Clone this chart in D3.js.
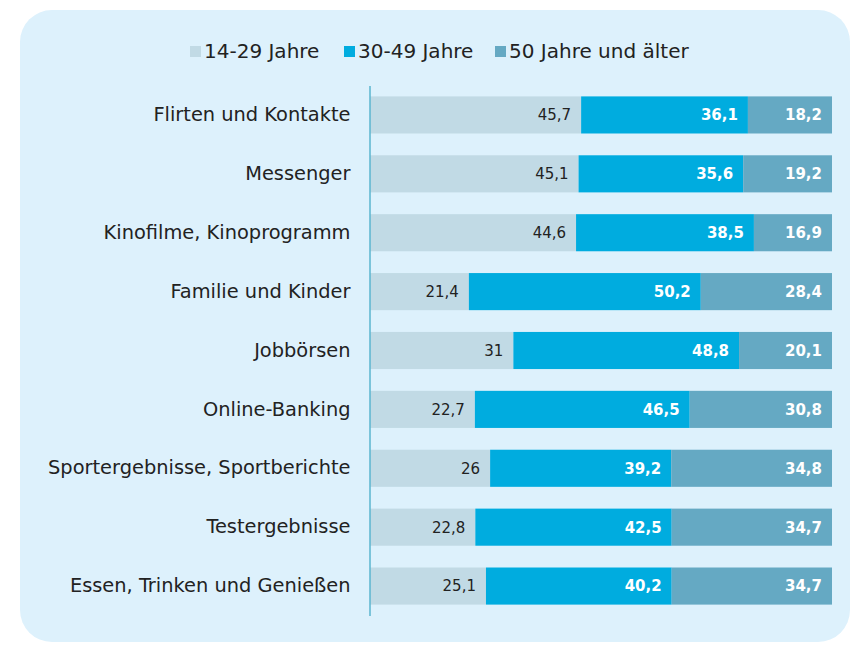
<!doctype html>
<meta charset="utf-8">
<style>
  body { margin: 0; background: #fff; }
  svg, svg text { font-family: "DejaVu Sans", "Verdana", sans-serif; }
  .cat { font-size: 19.4px; fill: #222; text-anchor: end; }
  .legend text { font-size: 20px; fill: #222; }
  .val { font-size: 15px; text-anchor: end; }
</style>
<svg id="chart" width="852" height="646"></svg>
<script src="https://d3js.org/d3.v7.min.js"></script>
<script>
  const categories = [
    "Flirten und Kontakte", "Messenger", "Kinofilme, Kinoprogramm",
    "Familie und Kinder", "Jobbörsen", "Online-Banking",
    "Sportergebnisse, Sportberichte", "Testergebnisse", "Essen, Trinken und Genießen"
  ];
  const seriesNames = ["14-29 Jahre", "30-49 Jahre", "50 Jahre und älter"];
  const young = [45.7, 45.1, 44.6, 21.4, 31, 22.7, 26, 22.8, 25.1];
  const middle = [36.1, 35.6, 38.5, 50.2, 48.8, 46.5, 39.2, 42.5, 40.2];
  const old = [18.2, 19.2, 16.9, 28.4, 20.1, 30.8, 34.8, 34.7, 34.7];
  const colors = ["#c1dae5", "#00acdf", "#65a9c3"];

  const rows = categories.map((c, i) => ({
    cat: c, "14-29 Jahre": young[i], "30-49 Jahre": middle[i], "50 Jahre und älter": old[i]
  }));

  const svg = d3.select("#chart");

  // background panel
  svg.append("rect")
    .attr("x", 20).attr("y", 10)
    .attr("width", 830).attr("height", 632)
    .attr("rx", 32)
    .attr("fill", "#ddf1fc");

  const x = d3.scaleLinear().domain([0, 1]).range([370, 832]);
  const y = d3.scaleBand().domain(categories).range([85.5, 615.5]).paddingInner(0.37).paddingOuter(0.185);

  const stack = d3.stack().keys(seriesNames).offset(d3.stackOffsetExpand);
  const series = stack(rows);

  const g = svg.selectAll("g.series")
    .data(series)
    .join("g")
    .attr("class", "series")
    .attr("fill", (d, i) => colors[i]);

  g.selectAll("rect")
    .data(d => d)
    .join("rect")
    .attr("x", d => x(d[0]))
    .attr("y", d => y(d.data.cat))
    .attr("width", d => x(d[1]) - x(d[0]))
    .attr("height", y.bandwidth());

  // value labels
  series.forEach((s, si) => {
    svg.append("g").selectAll("text")
      .data(s)
      .join("text")
      .attr("class", "val")
      .attr("x", d => x(d[1]) - 10)
      .attr("y", d => y(d.data.cat) + y.bandwidth() / 2)
      .attr("dy", "0.36em")
      .attr("fill", si === 0 ? "#222" : "#fff")
      .attr("font-weight", si === 0 ? "normal" : "bold")
      .text(d => String(d.data[s.key]).replace(".", ","));
  });

  // axis line + category labels
  const yAxis = d3.axisLeft(y).tickSize(0).tickPadding(19);
  const ax = svg.append("g").attr("transform", "translate(369.5,0)").call(yAxis)
    .attr("font-family", null).attr("font-size", null);
  ax.select(".domain").attr("stroke", "#5ab4cf").attr("stroke-width", 1.5);
  ax.selectAll("text").attr("class", "cat");

  // legend
  const legX = [190, 344, 495];
  const leg = svg.append("g").attr("class", "legend");
  seriesNames.forEach((n, i) => {
    leg.append("rect").attr("x", legX[i]).attr("y", 46).attr("width", 11).attr("height", 11).attr("fill", colors[i]);
    leg.append("text").attr("x", legX[i] + 14).attr("y", 58).text(n);
  });
</script>
